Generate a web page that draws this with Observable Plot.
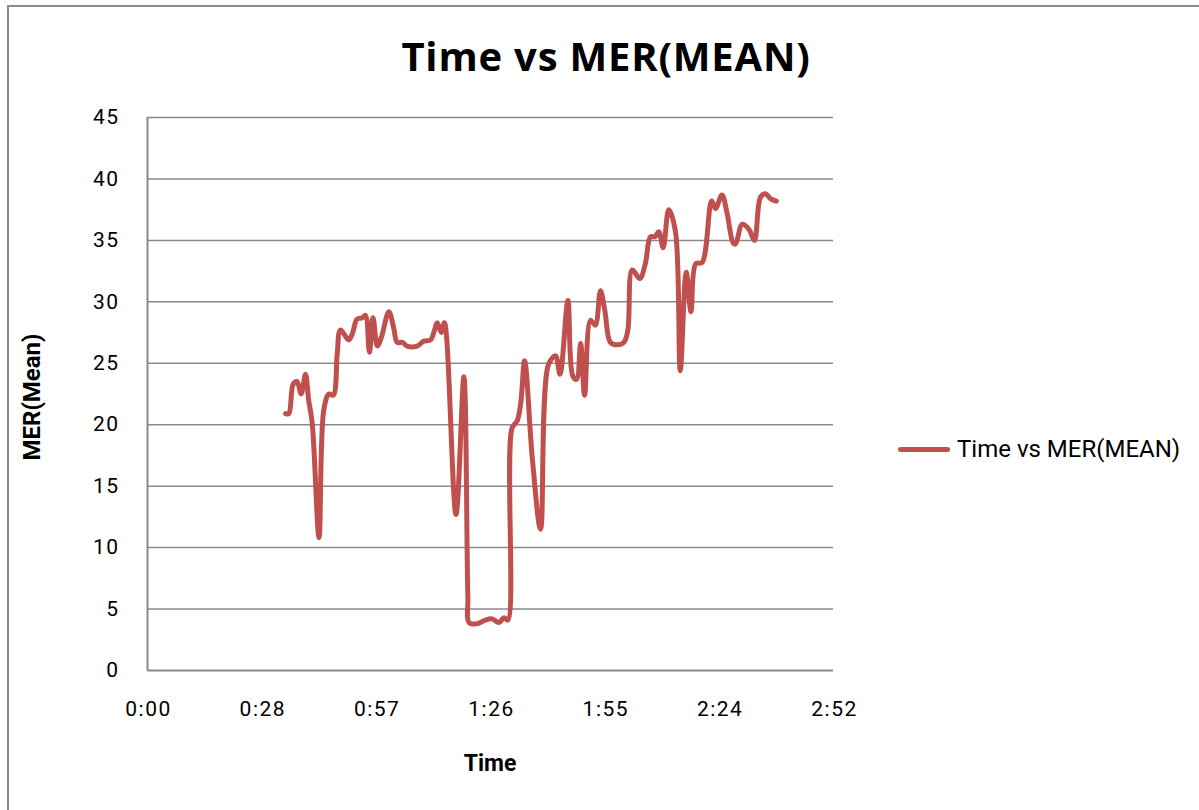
<!DOCTYPE html>
<html>
<head>
<meta charset="utf-8">
<script src="https://cdn.jsdelivr.net/npm/d3@7"></script>
<script src="https://cdn.jsdelivr.net/npm/@observablehq/plot@0.6"></script>
<style>
  html, body { margin: 0; padding: 0; background: #fff; }
  #wrap { position: relative; width: 1199px; height: 810px; overflow: hidden; background: #fff; }
  #frame { position: absolute; left: 7px; top: 5px; width: 1200px; height: 810px; border: 2px solid #8a8a8a; box-sizing: border-box; }
  #chart { position: absolute; left: 0; top: 0; }
  #title { position: absolute; left: 0; width: 1212px; top: 32px; text-align: center; font-family: "Open Sans", sans-serif; font-weight: 700; font-size: 40px; letter-spacing: 0.8px; color: #000; line-height: 1.2; }
  #legend { position: absolute; left: 898px; top: 435px; display: flex; align-items: center; font-family: Roboto, sans-serif; font-size: 24px; color: #000; }
  #legend .sw { width: 52px; height: 5px; background: #C0504D; border-radius: 3px; margin-right: 7px; }
  #ylabel { position: absolute; left: 32px; top: 397px; transform: translate(-50%, -50%) rotate(-90deg); font-family: Roboto, sans-serif; font-weight: 700; font-size: 24px; white-space: nowrap; }
  #xlabel { position: absolute; left: 490px; top: 763px; transform: translate(-50%, -50%); font-family: Roboto, sans-serif; font-weight: 700; font-size: 23px; }
</style>
</head>
<body>
<div id="wrap">
  <div id="frame"></div>
  <div id="chart"></div>
  <div id="title"></div>
  <div id="legend"><div class="sw"></div><span id="legendText"></span></div>
  <div id="ylabel"></div>
  <div id="xlabel"></div>
</div>
<script>
const titleText = "Time vs MER(MEAN)";
const seriesName = "Time vs MER(MEAN)";
const xTitle = "Time";
const yTitle = "MER(Mean)";

// time in seconds
const times = [34.8, 35.6, 36.7, 37.7, 38.7, 39.8, 40.6, 41.5, 43.2, 44.4, 45.7, 46.8, 47.8, 48.6, 50.7, 51.6, 52.8, 54.1, 54.9, 55.9, 56.8, 57.9, 58.9, 60.8, 62.0, 62.9, 64.2, 65.4, 67.9, 69.6, 71.3, 72.3, 73.0, 74.0, 74.8, 77.7, 79.7, 80.7, 81.0, 83.0, 85.1, 86.8, 88.5, 89.8, 90.8, 91.8, 93.1, 94.0, 95.0, 96.9, 99.0, 101.0, 102.8, 103.9, 105.9, 107.1, 108.1, 109.1, 110.1, 111.6, 112.8, 114.1, 115.2, 116.6, 118.3, 120.0, 121.0, 122.1, 124.0, 125.4, 126.7, 127.8, 128.8, 129.9, 131.3, 133.0, 134.2, 135.7, 136.9, 138.1, 139.7, 142.1, 143.1, 144.7, 146.0, 147.5, 148.1, 149.8, 151.5, 152.9, 154.4, 155.7, 156.9, 158.4];
const merMean = [20.9, 20.9, 23.3, 23.5, 22.5, 24.1, 22.0, 20.1, 10.8, 21.2, 22.5, 22.4, 25.8, 27.7, 26.9, 27.4, 28.6, 28.7, 28.9, 25.9, 28.7, 26.4, 27.1, 29.2, 27.9, 26.7, 26.7, 26.4, 26.4, 26.8, 26.9, 27.7, 28.3, 27.5, 28.3, 12.7, 23.9, 6.0, 3.9, 3.8, 4.1, 4.2, 3.9, 4.3, 4.1, 19.7, 20.3, 21.7, 25.2, 17.4, 11.5, 24.9, 25.6, 24.1, 30.1, 24.0, 23.7, 26.6, 22.4, 28.5, 28.1, 30.9, 29.3, 26.7, 26.5, 26.7, 27.7, 32.6, 31.9, 33.1, 35.3, 35.3, 35.7, 34.4, 37.5, 35.7, 24.4, 32.4, 29.2, 33.1, 33.2, 38.2, 37.6, 38.7, 37.2, 34.8, 34.7, 36.3, 35.9, 35.0, 38.5, 38.8, 38.4, 38.2];

const xTickValues = [0, 28.8, 57.6, 86.4, 115.2, 144, 172.8];
const xTickLabels = ["0:00", "0:28", "0:57", "1:26", "1:55", "2:24", "2:52"];
const yTickValues = [0, 5, 10, 15, 20, 25, 30, 35, 40, 45];

const data = times.map((t, i) => ({t, v: merMean[i]}));

document.getElementById("title").textContent = titleText;
document.getElementById("legendText").textContent = seriesName;
document.getElementById("ylabel").textContent = yTitle;
document.getElementById("xlabel").textContent = xTitle;

const gridColor = "#8a8a8a";

const plot = Plot.plot({
  width: 1199,
  height: 810,
  marginLeft: 147,
  marginRight: 366,
  marginTop: 117,
  marginBottom: 140,
  style: { fontFamily: "Roboto, sans-serif", fontSize: "21px", color: "#000", background: "transparent" },
  x: { domain: [0, 172.8] },
  y: { domain: [0, 45] },
  marks: [
    Plot.ruleY(yTickValues.filter(d => d > 0), { stroke: gridColor, strokeWidth: 1.5 }),
    Plot.ruleY([0], { stroke: gridColor, strokeWidth: 2 }),
    Plot.ruleX([0], { stroke: gridColor, strokeWidth: 2 }),
    Plot.axisX({ ticks: xTickValues, tickFormat: (d) => xTickLabels[xTickValues.indexOf(d)], tickSize: 0, tickPadding: 31, dx: 1, label: null, fontSize: 21 }),
    Plot.axisY({ ticks: yTickValues, tickSize: 0, tickPadding: 28, label: null, fontSize: 21 }),
    Plot.line(data, { x: "t", y: "v", stroke: "#C0504D", strokeWidth: 5, curve: "catmull-rom", strokeLinejoin: "round", strokeLinecap: "round" })
  ]
});
plot.querySelectorAll('g[aria-label$="tick label"] text').forEach(t => t.style.letterSpacing = "1.5px");
document.getElementById("chart").appendChild(plot);
</script>
</body>
</html>
